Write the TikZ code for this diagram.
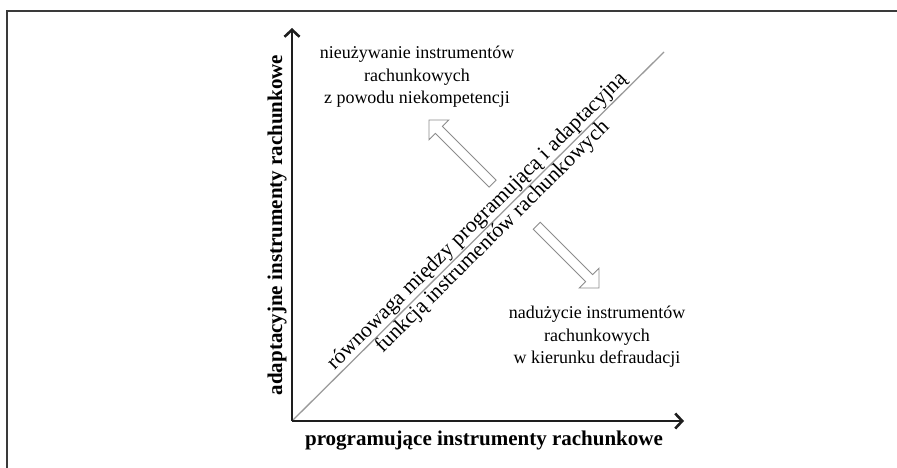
\documentclass[tikz,border=0pt]{standalone}
\usepackage{fontspec}
\setmainfont{Liberation Serif}
\usetikzlibrary{arrows.meta}
\definecolor{framec}{HTML}{3A3A3A}
\definecolor{axisc}{HTML}{1E1E1E}
\definecolor{diagc}{HTML}{9A9A9A}
\definecolor{hollowc}{HTML}{8C8C8C}
\tikzset{
  axisline/.style={draw=axisc, line width=2.6pt, -{Straight Barb[length=7pt,width=15pt]}},
  diagline/.style={draw=diagc, line width=1.3pt},
  hollow/.style={draw=hollowc, line width=0.9pt, fill=white, line join=miter},
  axislabel/.style={font=\fontsize{21}{25}\selectfont\bfseries, inner sep=0pt},
  difftext/.style={font=\fontsize{21.5}{25}\selectfont, inner sep=0pt},
  note/.style={font=\fontsize{18}{22.5}\selectfont, align=center, inner sep=0pt}
}
\begin{document}
\begin{tikzpicture}[x=1pt, y=-1pt]
\useasboundingbox (0,0) rectangle (897,468);
% frame
\draw[framec, line width=2pt] (7,468) -- (7,11) -- (897,11);
% axes
\coordinate (O) at (292,421);
\coordinate (Y) at (292,28);
\coordinate (X) at (684,421);
\coordinate (D) at (664,52);
\draw[diagline] (O) -- (D);
\draw[axisline] (O) -- (Y);
\draw[axisline] (O) -- (X);
% axis labels
\node[axislabel, anchor=base] (xl) at (484,445) {programujące instrumenty rachunkowe};
\node[axislabel, anchor=base, rotate=90] (yl) at (282,225) {adaptacyjne instrumenty rachunkowe};
% diagonal texts
\node[difftext, anchor=base, rotate=44.77] (d1) at (480.9,225.3) {równowaga między programującą i adaptacyjną};
\node[difftext, anchor=base, rotate=44.77] (d2) at (496.4,240.9) {funkcją instrumentów rachunkowych};
% notes
\node[note] (n1) at (417,77) {nieużywanie instrumentów\\rachunkowych\\z powodu niekompetencji};
\node[note] (n2) at (597,337) {nadużycie instrumentów\\rachunkowych\\w kierunku defraudacji};
% hollow arrows
\draw[hollow] (429,120) -- (448.8,120.0) -- (442.4,126.4) -- (496.1,180.1) -- (489.1,187.1) -- (435.4,133.4) -- (429.0,139.8) -- cycle;
\draw[hollow] (599,288) -- (599.0,268.2) -- (592.6,274.6) -- (540.3,222.3) -- (533.3,229.3) -- (585.6,281.6) -- (579.2,288.0) -- cycle;
\end{tikzpicture}
\end{document}
